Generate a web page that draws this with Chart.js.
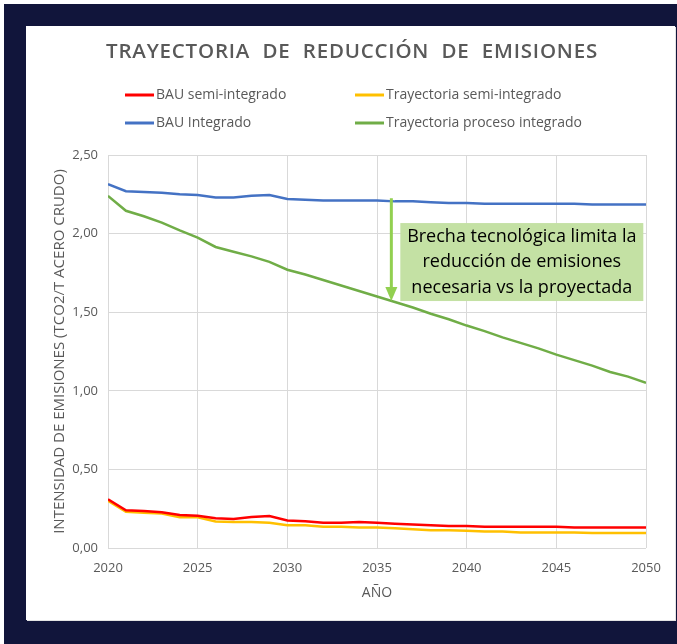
<!DOCTYPE html>
<html>
<head>
<meta charset="utf-8">
<script src="https://cdn.jsdelivr.net/npm/chart.js@4"></script>
<style>
  html, body { margin: 0; padding: 0; background: #fff; }
  #frame { position: absolute; left: 4px; top: 4px; width: 673px; height: 640px; background: #11153b; }
  #panel { position: absolute; left: 22px; top: 22px; width: 649px; height: 594px; background: #fff;
           box-shadow: 1px 1px 0 #e3e3e3; }
  canvas { display: block; }
</style>
</head>
<body>
<div id="frame"><div id="panel"><canvas id="emisionesChart" width="649" height="594"></canvas></div></div>
<script>
const years = [2020, 2021, 2022, 2023, 2024, 2025, 2026, 2027, 2028, 2029, 2030,
               2031, 2032, 2033, 2034, 2035, 2036, 2037, 2038, 2039, 2040,
               2041, 2042, 2043, 2044, 2045, 2046, 2047, 2048, 2049, 2050];
const bauSemi = [0.31, 0.24, 0.235, 0.227, 0.21, 0.205, 0.19, 0.185, 0.197, 0.204, 0.175,
                 0.17, 0.16, 0.16, 0.165, 0.16, 0.155, 0.15, 0.145, 0.14, 0.14,
                 0.135, 0.135, 0.135, 0.135, 0.135, 0.13, 0.13, 0.13, 0.13, 0.13];
const traySemi = [0.30, 0.23, 0.225, 0.22, 0.195, 0.195, 0.168, 0.165, 0.165, 0.16, 0.145,
                  0.145, 0.135, 0.135, 0.13, 0.13, 0.125, 0.12, 0.113, 0.113, 0.11,
                  0.105, 0.105, 0.098, 0.098, 0.098, 0.098, 0.095, 0.095, 0.095, 0.095];
const bauInt = [2.315, 2.27, 2.265, 2.26, 2.25, 2.245, 2.23, 2.23, 2.24, 2.245, 2.22,
                2.215, 2.21, 2.21, 2.21, 2.21, 2.205, 2.205, 2.2, 2.195, 2.195,
                2.19, 2.19, 2.19, 2.19, 2.19, 2.19, 2.185, 2.185, 2.185, 2.185];
const trayInt = [2.24, 2.145, 2.11, 2.07, 2.02, 1.975, 1.915, 1.885, 1.855, 1.82, 1.77,
                 1.74, 1.705, 1.67, 1.635, 1.60, 1.565, 1.53, 1.49, 1.455, 1.415,
                 1.38, 1.34, 1.305, 1.27, 1.23, 1.195, 1.16, 1.12, 1.09, 1.05];
const seriesNames = ['BAU semi-integrado', 'Trayectoria semi-integrado', 'BAU Integrado', 'Trayectoria proceso integrado'];
const yTicks = [0, 0.5, 1, 1.5, 2, 2.5];
const xTicks = [2020, 2025, 2030, 2035, 2040, 2045, 2050];
const chartTitle = 'TRAYECTORIA  DE  REDUCCIÓN  DE  EMISIONES';
const noteLines = ['Brecha tecnológica limita la', 'reducción de emisiones', 'necesaria vs la proyectada'];
// arrow: from BAU integrado down to trayectoria integrada
const arrowYear = 2035.8, arrowFrom = 2.225, arrowTo = 1.572;
const noteBox = { x0: 2036.3, x1: 2049.85, y0: 2.067, y1: 1.571 };

const gray = '#595959';
const font = '"Open Sans", sans-serif';

function pts(vals) { return vals.map((v, i) => ({ x: years[i], y: v })); }

const topDeco = {
  id: 'topDeco',
  afterDraw(chart) {
    const ctx = chart.ctx;
    ctx.save();
    ctx.fillStyle = gray;
    ctx.font = '600 20.5px ' + font;
    ctx.letterSpacing = '0.8px';
    ctx.textAlign = 'center';
    ctx.textBaseline = 'middle';
    ctx.fillText(chartTitle, 326, 26);
    ctx.letterSpacing = '0px';
    // legend in two columns
    const cols = [99, 329], rows = [69, 97];
    ctx.font = '14px ' + font;
    ctx.textAlign = 'left';
    chart.data.datasets.forEach((ds, i) => {
      const x = cols[i % 2], y = rows[Math.floor(i / 2)];
      ctx.strokeStyle = ds.borderColor;
      ctx.lineWidth = 3;
      ctx.beginPath(); ctx.moveTo(x, y); ctx.lineTo(x + 29, y); ctx.stroke();
      ctx.fillStyle = gray;
      ctx.fillText(ds.label, x + 31, y);
    });
    ctx.restore();
  }
};

const note = {
  id: 'note',
  afterDatasetsDraw(chart) {
    const ctx = chart.ctx, xs = chart.scales.x, ys = chart.scales.y;
    ctx.save();
    const bx0 = xs.getPixelForValue(noteBox.x0), bx1 = xs.getPixelForValue(noteBox.x1);
    const by0 = ys.getPixelForValue(noteBox.y0), by1 = ys.getPixelForValue(noteBox.y1);
    ctx.fillStyle = '#c4e1a4';
    ctx.fillRect(bx0, by0, bx1 - bx0, by1 - by0);
    ctx.fillStyle = '#000';
    ctx.font = '18px ' + font;
    ctx.textAlign = 'center';
    ctx.textBaseline = 'middle';
    const cx = (bx0 + bx1) / 2, cy = (by0 + by1) / 2;
    noteLines.forEach((t, i) => ctx.fillText(t, cx, cy + (i - 1) * 25.5, bx1 - bx0 - 4));
    // arrow
    const ax = xs.getPixelForValue(arrowYear);
    const ay0 = ys.getPixelForValue(arrowFrom), ay1 = ys.getPixelForValue(arrowTo);
    ctx.strokeStyle = '#92d050';
    ctx.fillStyle = '#92d050';
    ctx.lineWidth = 3;
    ctx.beginPath(); ctx.moveTo(ax, ay0); ctx.lineTo(ax, ay1 - 12); ctx.stroke();
    ctx.beginPath(); ctx.moveTo(ax - 6, ay1 - 14); ctx.lineTo(ax + 6, ay1 - 14); ctx.lineTo(ax, ay1); ctx.closePath(); ctx.fill();
    ctx.restore();
  }
};

const lineDs = (label, vals, color) => ({
  label: label, data: pts(vals), borderColor: color, backgroundColor: color,
  borderWidth: 2.5, pointRadius: 0, tension: 0, fill: false
});

new Chart(document.getElementById('emisionesChart').getContext('2d'), {
  type: 'line',
  data: {
    datasets: [
      lineDs(seriesNames[0], bauSemi, '#ff0000'),
      lineDs(seriesNames[1], traySemi, '#ffc000'),
      lineDs(seriesNames[2], bauInt, '#4472c4'),
      lineDs(seriesNames[3], trayInt, '#70ad47')
    ]
  },
  options: {
    responsive: false,
    animation: false,
    layout: { padding: { top: 129, right: 29, left: 0, bottom: 0 } },
    plugins: {
      legend: { display: false },
      title: { display: false },
      tooltip: { enabled: false }
    },
    scales: {
      x: {
        type: 'linear', min: 2020, max: 2050,
        afterBuildTicks: s => { s.ticks = xTicks.map(v => ({ value: v })); },
        afterFit: s => { s.height = 72; },
        grid: { color: '#d9d9d9', drawTicks: false },
        border: { display: false },
        ticks: { color: gray, font: { family: font, size: 13 }, padding: 12, maxRotation: 0,
                 callback: v => String(v) },
        title: { display: true, text: 'AÑO', color: gray, font: { family: font, size: 14 },
                 padding: { top: 0, bottom: 19 } }
      },
      y: {
        min: 0, max: 2.5,
        afterBuildTicks: s => { s.ticks = yTicks.map(v => ({ value: v })); },
        afterFit: s => { s.width = 82; },
        grid: { color: '#d9d9d9', drawTicks: false },
        border: { display: false },
        ticks: { color: gray, font: { family: font, size: 13 }, padding: 10,
                 callback: v => v.toFixed(2).replace('.', ',') },
        title: { display: true, text: 'INTENSIDAD DE EMISIONES (TCO2/T ACERO CRUDO)', color: gray,
                 font: { family: font, size: 15 }, padding: { top: 25, bottom: 0 } }
      }
    }
  },
  plugins: [topDeco, note]
});
</script>
</body>
</html>
